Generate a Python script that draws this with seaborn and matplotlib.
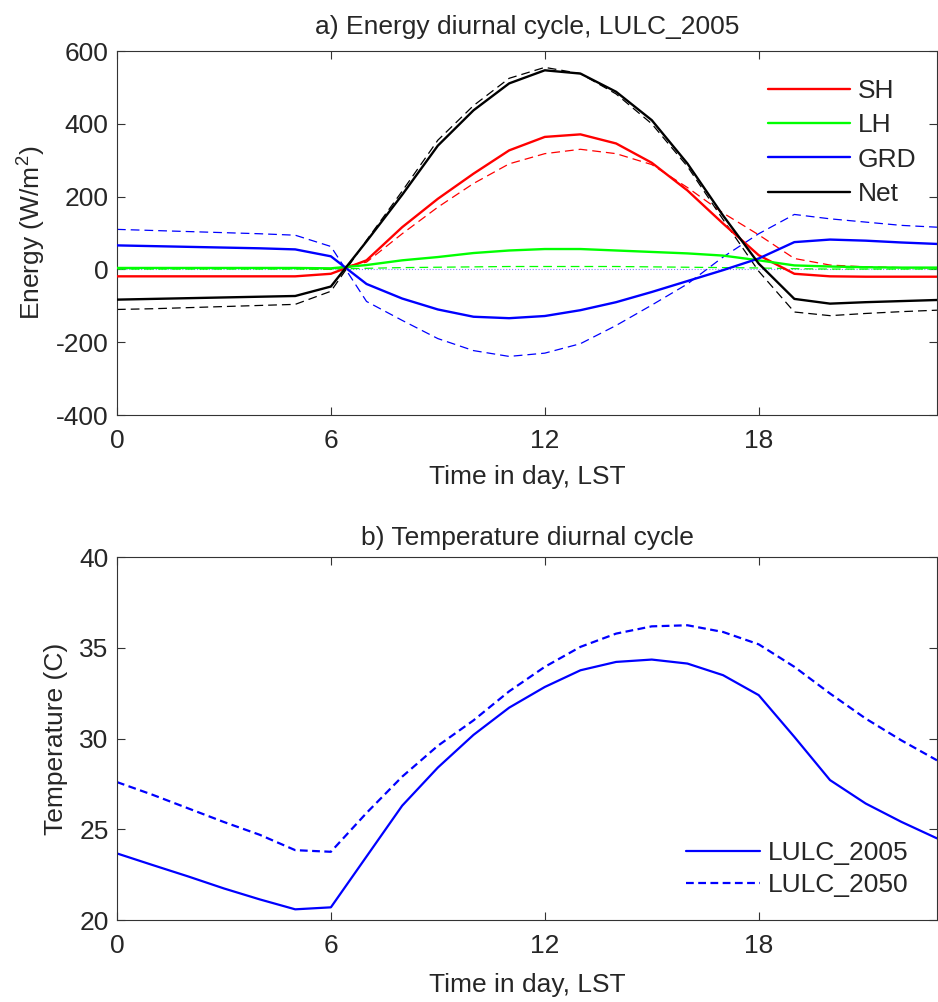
import numpy as np
import pandas as pd
import matplotlib
matplotlib.use("Agg")
import matplotlib.pyplot as plt
import seaborn as sns

# ============================================================
# DATA (hourly LST 0..23)
# ============================================================
hours = list(range(24))

# energy fluxes (W/m2), solid = LULC_2005, dashed = LULC_2050
sh_2005 = [-19, -19, -19, -19, -19, -19, -12, 25, 116, 194, 263, 327,
           364, 371, 346, 293, 217, 126, 39, -12, -19, -20, -20, -20]
sh_2050 = [3, 3, 3, 3, 3, 3, 0, 20, 98, 171, 236, 290,
           318, 330, 318, 288, 225, 155, 95, 30, 12, 7, 5, 4]
lh_2005 = [4, 4, 4, 4, 4, 4, 3, 12, 25, 34, 45, 52,
           56, 56, 52, 48, 44, 38, 25, 11, 8, 6, 5, 5]
lh_2050 = [1, 1, 1, 1, 1, 1, 1, 3, 5, 6, 7, 8,
           8, 8, 8, 7, 6, 5, 4, 2, 1, 1, 1, 1]
grd_2005 = [66, 64, 62, 60, 58, 55, 36, -40, -80, -110, -130, -134,
            -128, -112, -90, -62, -32, -2, 30, 75, 82, 79, 74, 70]
grd_2050 = [110, 107, 104, 101, 98, 94, 63, -88, -140, -190, -223, -239,
            -230, -204, -154, -98, -40, 34, 98, 151, 139, 130, 121, 116]
net_2005 = [-83, -81, -79, -77, -75, -73, -47, 77, 205, 340, 437, 511,
            547, 538, 488, 410, 291, 148, 16, -81, -94, -90, -87, -84]
net_2050 = [-110, -108, -105, -102, -99, -96, -60, 80, 215, 355, 450, 525,
            555, 538, 482, 400, 283, 137, -5, -117, -127, -121, -116, -112]

# 2 m temperature (C)
temp_2005 = [23.67, 23.03, 22.4, 21.74, 21.14, 20.59, 20.7, 23.5, 26.3, 28.4,
             30.2, 31.7, 32.84, 33.76, 34.22, 34.35, 34.13, 33.49, 32.39,
             30.09, 27.71, 26.42, 25.41, 24.5]
temp_2050 = [27.6, 26.9, 26.15, 25.4, 24.7, 23.85, 23.76, 25.9, 27.9, 29.6,
             31.0, 32.6, 33.95, 35.05, 35.78, 36.18, 36.24, 35.87, 35.19,
             33.95, 32.48, 31.1, 29.9, 28.8]

flux_names = ["SH", "LH", "GRD", "Net"]
flux_colors = ["#ff0000", "#00ff00", "#0000ff", "#000000"]
flux_2005 = [sh_2005, lh_2005, grd_2005, net_2005]
flux_2050 = [sh_2050, lh_2050, grd_2050, net_2050]

# ============================================================
# STYLE
# ============================================================
sns.set_style("ticks")
plt.rcParams["font.family"] = ["Liberation Sans", "DejaVu Sans"]
plt.rcParams["mathtext.default"] = "regular"
plt.rcParams["axes.unicode_minus"] = False
plt.rcParams["axes.edgecolor"] = "#333333"
plt.rcParams["axes.linewidth"] = 0.8

FS = 19

fig = plt.figure(figsize=(9.38, 10.02), dpi=100)
ax1 = fig.add_axes([0.1247, 0.5858, 0.8742, 0.3633])
ax2 = fig.add_axes([0.1247, 0.0818, 0.8742, 0.3623])

# ------------------------------------------------------------
# a) energy diurnal cycle
# ------------------------------------------------------------
ax1.axhline(0, color="#8080ff", ls=":", lw=0.8, zorder=1)
for name, col, v05, v50 in zip(flux_names, flux_colors, flux_2005, flux_2050):
    sns.lineplot(x=hours, y=v50, ax=ax1, color=col, lw=0.9,
                 legend=False, zorder=2).lines[-1].set_dashes((7, 4))
    sns.lineplot(x=hours, y=v05, ax=ax1, color=col, lw=1.7, label=name, zorder=3)

ax1.set_xlim(0, 23)
ax1.set_ylim(-400, 600)
ax1.set_yticks(np.arange(-400, 601, 200))
ax1.set_title("a) Energy diurnal cycle, LULC_2005", fontsize=FS, pad=12)
ax1.set_ylabel("Energy (W/m$^2$)", fontsize=FS, labelpad=6)
ax1.set_xlabel("Time in day, LST", fontsize=FS, labelpad=9)
ax1.legend(loc="upper right", bbox_to_anchor=(0.988, 0.952), frameon=False,
           fontsize=FS, handlelength=3.1, handletextpad=0.3,
           labelspacing=0.39, borderaxespad=0)

# ------------------------------------------------------------
# b) temperature diurnal cycle
# ------------------------------------------------------------
sns.lineplot(x=hours, y=temp_2005, ax=ax2, color="#0000ff", lw=1.6,
             label="LULC_2005")
sns.lineplot(x=hours, y=temp_2050, ax=ax2, color="#0000ff", lw=1.6,
             label="LULC_2050")
ax2.lines[-1].set_dashes((3.5, 2))

ax2.set_xlim(0, 23)
ax2.set_ylim(20, 40)
ax2.set_yticks(np.arange(20, 41, 5))
ax2.set_title("b) Temperature diurnal cycle", fontsize=FS, pad=9)
ax2.set_ylabel("Temperature (C)", fontsize=FS, labelpad=8)
ax2.set_xlabel("Time in day, LST", fontsize=FS, labelpad=11)
leg = ax2.legend(loc="lower right", bbox_to_anchor=(0.978, 0.035), frameon=False,
                 fontsize=FS, handlelength=2.8, handletextpad=0.3,
                 labelspacing=0.3, borderaxespad=0)
leg.get_lines()[1].set_dashes((3.5, 2))

for ax in (ax1, ax2):
    ax.set_xticks([0, 6, 12, 18])
    ax.tick_params(direction="in", top=True, right=True, length=6,
                   width=0.8, color="#333333", labelsize=FS)
    ax.tick_params(axis="x", pad=10)
    ax.tick_params(axis="y", pad=6)
    for s in ax.spines.values():
        s.set_visible(True)

fig.savefig("out.png", dpi=100)
